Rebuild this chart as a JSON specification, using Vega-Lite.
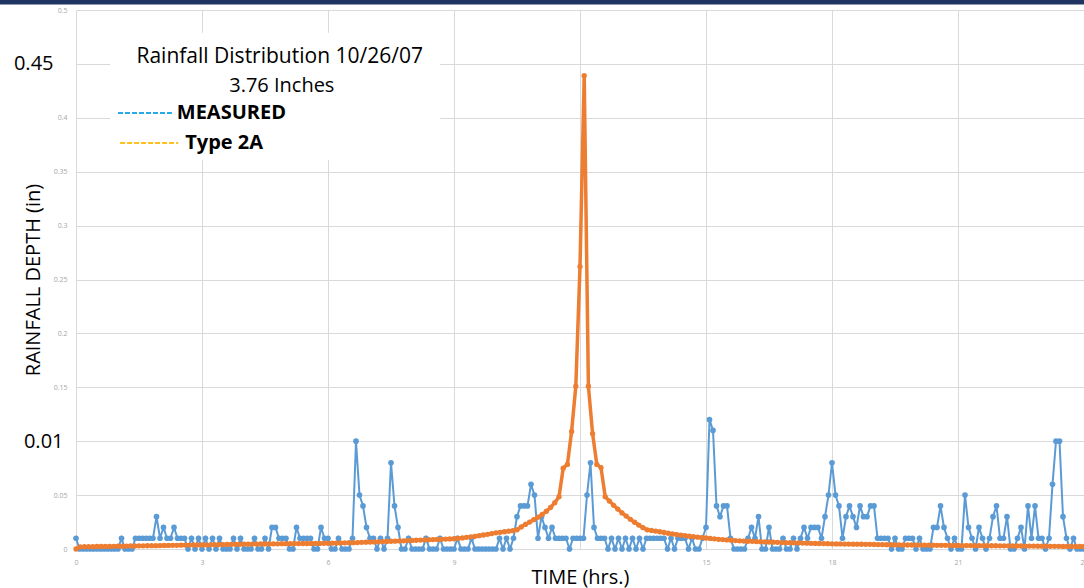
{
  "$schema": "https://vega.github.io/schema/vega-lite/v6.json",
  "width": 1008,
  "height": 539,
  "autosize": {"type": "none"},
  "padding": {"left": 76, "top": 10, "right": 0, "bottom": 39},
  "background": "white",
  "config": {
    "view": {"stroke": null},
    "font": "Open Sans",
    "axis": {"grid": true, "gridColor": "#d9d9d9", "gridWidth": 1, "gridOpacity": 1}
  },
  "data": {"values": [{}]},
  "datasets": {
    "measured": [
      {"m":0,"v":0.01},{"m":5,"v":0},{"m":10,"v":0},{"m":15,"v":0},{"m":20,"v":0},{"m":25,"v":0},{"m":30,"v":0},{"m":35,"v":0},{"m":40,"v":0},{"m":45,"v":0},
      {"m":50,"v":0},{"m":55,"v":0},{"m":60,"v":0},{"m":65,"v":0.01},{"m":70,"v":0},{"m":75,"v":0},{"m":80,"v":0},{"m":85,"v":0.01},{"m":90,"v":0.01},{"m":95,"v":0.01},
      {"m":100,"v":0.01},{"m":105,"v":0.01},{"m":110,"v":0.01},{"m":115,"v":0.03},{"m":120,"v":0.01},{"m":125,"v":0.02},{"m":130,"v":0.01},{"m":135,"v":0.01},{"m":140,"v":0.02},{"m":145,"v":0.01},
      {"m":150,"v":0.01},{"m":155,"v":0.01},{"m":160,"v":0},{"m":165,"v":0.01},{"m":170,"v":0},{"m":175,"v":0.01},{"m":180,"v":0},{"m":185,"v":0.01},{"m":190,"v":0},{"m":195,"v":0.01},
      {"m":200,"v":0},{"m":205,"v":0.01},{"m":210,"v":0},{"m":215,"v":0},{"m":220,"v":0},{"m":225,"v":0.01},{"m":230,"v":0},{"m":235,"v":0.01},{"m":240,"v":0},{"m":245,"v":0},
      {"m":250,"v":0},{"m":255,"v":0.01},{"m":260,"v":0},{"m":265,"v":0},{"m":270,"v":0.01},{"m":275,"v":0},{"m":280,"v":0.02},{"m":285,"v":0.02},{"m":290,"v":0.01},{"m":295,"v":0.01},
      {"m":300,"v":0.01},{"m":305,"v":0},{"m":310,"v":0},{"m":315,"v":0.02},{"m":320,"v":0.01},{"m":325,"v":0.01},{"m":330,"v":0.01},{"m":335,"v":0.01},{"m":340,"v":0},{"m":345,"v":0},
      {"m":350,"v":0.02},{"m":355,"v":0.01},{"m":360,"v":0.01},{"m":365,"v":0},{"m":370,"v":0},{"m":375,"v":0.01},{"m":380,"v":0},{"m":385,"v":0},{"m":390,"v":0},{"m":395,"v":0.01},
      {"m":400,"v":0.1},{"m":405,"v":0.05},{"m":410,"v":0.04},{"m":415,"v":0.02},{"m":420,"v":0.01},{"m":425,"v":0.01},{"m":430,"v":0},{"m":435,"v":0.01},{"m":440,"v":0},{"m":445,"v":0.01},
      {"m":450,"v":0.08},{"m":455,"v":0.04},{"m":460,"v":0.02},{"m":465,"v":0},{"m":470,"v":0},{"m":475,"v":0.01},{"m":480,"v":0},{"m":485,"v":0},{"m":490,"v":0},{"m":495,"v":0},
      {"m":500,"v":0.01},{"m":505,"v":0},{"m":510,"v":0},{"m":515,"v":0},{"m":520,"v":0.01},{"m":525,"v":0},{"m":530,"v":0},{"m":535,"v":0},{"m":540,"v":0},{"m":545,"v":0.01},
      {"m":550,"v":0},{"m":555,"v":0},{"m":560,"v":0},{"m":565,"v":0.01},{"m":570,"v":0},{"m":575,"v":0},{"m":580,"v":0},{"m":585,"v":0},{"m":590,"v":0},{"m":595,"v":0},
      {"m":600,"v":0},{"m":605,"v":0.01},{"m":610,"v":0},{"m":615,"v":0.01},{"m":620,"v":0},{"m":625,"v":0.01},{"m":630,"v":0.03},{"m":635,"v":0.04},{"m":640,"v":0.04},{"m":645,"v":0.04},
      {"m":650,"v":0.06},{"m":655,"v":0.05},{"m":660,"v":0.01},{"m":665,"v":0.03},{"m":670,"v":0.02},{"m":675,"v":0.01},{"m":680,"v":0.02},{"m":685,"v":0.01},{"m":690,"v":0.01},{"m":695,"v":0.01},
      {"m":700,"v":0.01},{"m":705,"v":0},{"m":710,"v":0.01},{"m":715,"v":0.01},{"m":720,"v":0.01},{"m":725,"v":0.01},{"m":730,"v":0.05},{"m":735,"v":0.08},{"m":740,"v":0.02},{"m":745,"v":0.01},
      {"m":750,"v":0.01},{"m":755,"v":0.01},{"m":760,"v":0},{"m":765,"v":0.01},{"m":770,"v":0},{"m":775,"v":0.01},{"m":780,"v":0},{"m":785,"v":0.01},{"m":790,"v":0},{"m":795,"v":0.01},
      {"m":800,"v":0},{"m":805,"v":0.01},{"m":810,"v":0},{"m":815,"v":0.01},{"m":820,"v":0.01},{"m":825,"v":0.01},{"m":830,"v":0.01},{"m":835,"v":0.01},{"m":840,"v":0.01},{"m":845,"v":0},
      {"m":850,"v":0.01},{"m":855,"v":0},{"m":860,"v":0.01},{"m":865,"v":0.01},{"m":870,"v":0.01},{"m":875,"v":0},{"m":880,"v":0.01},{"m":885,"v":0},{"m":890,"v":0},{"m":895,"v":0.01},
      {"m":900,"v":0.02},{"m":905,"v":0.12},{"m":910,"v":0.11},{"m":915,"v":0.04},{"m":920,"v":0.03},{"m":925,"v":0.04},{"m":930,"v":0.04},{"m":935,"v":0.01},{"m":940,"v":0},{"m":945,"v":0},
      {"m":950,"v":0},{"m":955,"v":0},{"m":960,"v":0.01},{"m":965,"v":0.02},{"m":970,"v":0.01},{"m":975,"v":0.03},{"m":980,"v":0},{"m":985,"v":0},{"m":990,"v":0.02},{"m":995,"v":0},
      {"m":1000,"v":0},{"m":1005,"v":0},{"m":1010,"v":0.01},{"m":1015,"v":0},{"m":1020,"v":0},{"m":1025,"v":0.01},{"m":1030,"v":0},{"m":1035,"v":0.01},{"m":1040,"v":0.02},{"m":1045,"v":0.01},
      {"m":1050,"v":0.02},{"m":1055,"v":0.02},{"m":1060,"v":0.02},{"m":1065,"v":0.01},{"m":1070,"v":0.03},{"m":1075,"v":0.05},{"m":1080,"v":0.08},{"m":1085,"v":0.05},{"m":1090,"v":0.04},{"m":1095,"v":0.01},
      {"m":1100,"v":0.03},{"m":1105,"v":0.04},{"m":1110,"v":0.03},{"m":1115,"v":0.02},{"m":1120,"v":0.04},{"m":1125,"v":0.03},{"m":1130,"v":0.03},{"m":1135,"v":0.04},{"m":1140,"v":0.04},{"m":1145,"v":0.01},
      {"m":1150,"v":0.01},{"m":1155,"v":0.01},{"m":1160,"v":0.01},{"m":1165,"v":0},{"m":1170,"v":0.01},{"m":1175,"v":0},{"m":1180,"v":0},{"m":1185,"v":0.01},{"m":1190,"v":0.01},{"m":1195,"v":0.01},
      {"m":1200,"v":0},{"m":1205,"v":0.01},{"m":1210,"v":0},{"m":1215,"v":0},{"m":1220,"v":0},{"m":1225,"v":0.02},{"m":1230,"v":0.02},{"m":1235,"v":0.04},{"m":1240,"v":0.02},{"m":1245,"v":0.01},
      {"m":1250,"v":0},{"m":1255,"v":0.01},{"m":1260,"v":0},{"m":1265,"v":0},{"m":1270,"v":0.05},{"m":1275,"v":0.02},{"m":1280,"v":0.01},{"m":1285,"v":0},{"m":1290,"v":0.02},{"m":1295,"v":0.01},
      {"m":1300,"v":0},{"m":1305,"v":0.01},{"m":1310,"v":0.03},{"m":1315,"v":0.04},{"m":1320,"v":0.01},{"m":1325,"v":0.01},{"m":1330,"v":0.03},{"m":1335,"v":0},{"m":1340,"v":0},{"m":1345,"v":0.01},
      {"m":1350,"v":0.02},{"m":1355,"v":0},{"m":1360,"v":0.04},{"m":1365,"v":0.01},{"m":1370,"v":0.04},{"m":1375,"v":0.01},{"m":1380,"v":0.01},{"m":1385,"v":0},{"m":1390,"v":0.01},{"m":1395,"v":0.06},
      {"m":1400,"v":0.1},{"m":1405,"v":0.1},{"m":1410,"v":0.03},{"m":1415,"v":0.01},{"m":1420,"v":0},{"m":1425,"v":0.01},{"m":1430,"v":0},{"m":1435,"v":0},{"m":1440,"v":0}
    ],
    "type2a": [
      {"m":0,"v":0},{"m":6,"v":0.002},{"m":12,"v":0.0021},{"m":18,"v":0.0021},{"m":24,"v":0.0022},{"m":30,"v":0.0023},{"m":36,"v":0.0023},{"m":42,"v":0.0024},{"m":48,"v":0.0024},{"m":54,"v":0.0025},
      {"m":60,"v":0.0026},{"m":66,"v":0.0026},{"m":72,"v":0.0027},{"m":78,"v":0.0028},{"m":84,"v":0.0028},{"m":90,"v":0.0029},{"m":96,"v":0.0029},{"m":102,"v":0.003},{"m":108,"v":0.0031},{"m":114,"v":0.0031},
      {"m":120,"v":0.0032},{"m":126,"v":0.0033},{"m":132,"v":0.0033},{"m":138,"v":0.0034},{"m":144,"v":0.0034},{"m":150,"v":0.0035},{"m":156,"v":0.0036},{"m":162,"v":0.0036},{"m":168,"v":0.0037},{"m":174,"v":0.0038},
      {"m":180,"v":0.0038},{"m":186,"v":0.0039},{"m":192,"v":0.0039},{"m":198,"v":0.004},{"m":204,"v":0.0041},{"m":210,"v":0.0041},{"m":216,"v":0.0042},{"m":222,"v":0.0043},{"m":228,"v":0.0043},{"m":234,"v":0.0044},
      {"m":240,"v":0.0045},{"m":246,"v":0.0045},{"m":252,"v":0.0046},{"m":258,"v":0.0046},{"m":264,"v":0.0047},{"m":270,"v":0.0047},{"m":276,"v":0.0047},{"m":282,"v":0.0048},{"m":288,"v":0.0048},{"m":294,"v":0.0049},
      {"m":300,"v":0.0049},{"m":306,"v":0.0049},{"m":312,"v":0.005},{"m":318,"v":0.005},{"m":324,"v":0.0051},{"m":330,"v":0.0051},{"m":336,"v":0.0051},{"m":342,"v":0.0052},{"m":348,"v":0.0052},{"m":354,"v":0.0053},
      {"m":360,"v":0.0053},{"m":366,"v":0.0054},{"m":372,"v":0.0055},{"m":378,"v":0.0056},{"m":384,"v":0.0057},{"m":390,"v":0.0058},{"m":396,"v":0.0059},{"m":402,"v":0.006},{"m":408,"v":0.0062},{"m":414,"v":0.0063},
      {"m":420,"v":0.0064},{"m":426,"v":0.0066},{"m":432,"v":0.0067},{"m":438,"v":0.0069},{"m":444,"v":0.007},{"m":450,"v":0.0072},{"m":456,"v":0.0073},{"m":462,"v":0.0075},{"m":468,"v":0.0076},{"m":474,"v":0.0078},
      {"m":480,"v":0.008},{"m":486,"v":0.0081},{"m":492,"v":0.0083},{"m":498,"v":0.0084},{"m":504,"v":0.0086},{"m":510,"v":0.0087},{"m":516,"v":0.0089},{"m":522,"v":0.009},{"m":528,"v":0.0092},{"m":534,"v":0.0093},
      {"m":540,"v":0.0095},{"m":546,"v":0.0099},{"m":552,"v":0.0103},{"m":558,"v":0.0108},{"m":564,"v":0.0113},{"m":570,"v":0.0118},{"m":576,"v":0.0124},{"m":582,"v":0.013},{"m":588,"v":0.0136},{"m":594,"v":0.0143},
      {"m":600,"v":0.015},{"m":606,"v":0.0155},{"m":612,"v":0.016},{"m":618,"v":0.0165},{"m":624,"v":0.017},{"m":630,"v":0.0178},{"m":636,"v":0.0205},{"m":642,"v":0.0228},{"m":648,"v":0.025},{"m":654,"v":0.0272},
      {"m":660,"v":0.0295},{"m":666,"v":0.032},{"m":672,"v":0.035},{"m":678,"v":0.0385},{"m":684,"v":0.043},{"m":690,"v":0.0485},{"m":696,"v":0.075},{"m":702,"v":0.0785},{"m":708,"v":0.109},{"m":714,"v":0.151},
      {"m":720,"v":0.262},{"m":726,"v":0.439},{"m":732,"v":0.151},{"m":738,"v":0.107},{"m":744,"v":0.0785},{"m":750,"v":0.0755},{"m":756,"v":0.0485},{"m":762,"v":0.0445},{"m":768,"v":0.0405},{"m":774,"v":0.037},
      {"m":780,"v":0.0335},{"m":786,"v":0.0305},{"m":792,"v":0.0275},{"m":798,"v":0.0248},{"m":804,"v":0.0222},{"m":810,"v":0.0198},{"m":816,"v":0.0178},{"m":822,"v":0.0172},{"m":828,"v":0.0166},{"m":834,"v":0.016},
      {"m":840,"v":0.0153},{"m":846,"v":0.0146},{"m":852,"v":0.0139},{"m":858,"v":0.0134},{"m":864,"v":0.0129},{"m":870,"v":0.0124},{"m":876,"v":0.0119},{"m":882,"v":0.0114},{"m":888,"v":0.011},{"m":894,"v":0.0106},
      {"m":900,"v":0.0102},{"m":906,"v":0.0098},{"m":912,"v":0.0094},{"m":918,"v":0.009},{"m":924,"v":0.0087},{"m":930,"v":0.0084},{"m":936,"v":0.0081},{"m":942,"v":0.0078},{"m":948,"v":0.0076},{"m":954,"v":0.0074},
      {"m":960,"v":0.0072},{"m":966,"v":0.0071},{"m":972,"v":0.0069},{"m":978,"v":0.0068},{"m":984,"v":0.0066},{"m":990,"v":0.0065},{"m":996,"v":0.0063},{"m":1002,"v":0.0062},{"m":1008,"v":0.006},{"m":1014,"v":0.0059},
      {"m":1020,"v":0.0058},{"m":1026,"v":0.0057},{"m":1032,"v":0.0056},{"m":1038,"v":0.0055},{"m":1044,"v":0.0054},{"m":1050,"v":0.0053},{"m":1056,"v":0.0052},{"m":1062,"v":0.0051},{"m":1068,"v":0.005},{"m":1074,"v":0.0049},
      {"m":1080,"v":0.0048},{"m":1086,"v":0.0047},{"m":1092,"v":0.0047},{"m":1098,"v":0.0046},{"m":1104,"v":0.0046},{"m":1110,"v":0.0045},{"m":1116,"v":0.0045},{"m":1122,"v":0.0044},{"m":1128,"v":0.0043},{"m":1134,"v":0.0043},
      {"m":1140,"v":0.0042},{"m":1146,"v":0.0041},{"m":1152,"v":0.0041},{"m":1158,"v":0.004},{"m":1164,"v":0.004},{"m":1170,"v":0.0039},{"m":1176,"v":0.0039},{"m":1182,"v":0.0038},{"m":1188,"v":0.0037},{"m":1194,"v":0.0037},
      {"m":1200,"v":0.0036},{"m":1206,"v":0.0036},{"m":1212,"v":0.0035},{"m":1218,"v":0.0035},{"m":1224,"v":0.0035},{"m":1230,"v":0.0034},{"m":1236,"v":0.0034},{"m":1242,"v":0.0034},{"m":1248,"v":0.0033},{"m":1254,"v":0.0033},
      {"m":1260,"v":0.0033},{"m":1266,"v":0.0032},{"m":1272,"v":0.0032},{"m":1278,"v":0.0032},{"m":1284,"v":0.0031},{"m":1290,"v":0.0031},{"m":1296,"v":0.0031},{"m":1302,"v":0.003},{"m":1308,"v":0.003},{"m":1314,"v":0.003},
      {"m":1320,"v":0.0029},{"m":1326,"v":0.0029},{"m":1332,"v":0.0029},{"m":1338,"v":0.0028},{"m":1344,"v":0.0028},{"m":1350,"v":0.0028},{"m":1356,"v":0.0027},{"m":1362,"v":0.0027},{"m":1368,"v":0.0027},{"m":1374,"v":0.0026},
      {"m":1380,"v":0.0026},{"m":1386,"v":0.0026},{"m":1392,"v":0.0025},{"m":1398,"v":0.0025},{"m":1404,"v":0.0025},{"m":1410,"v":0.0024},{"m":1416,"v":0.0024},{"m":1422,"v":0.0024},{"m":1428,"v":0.0023},{"m":1434,"v":0.0023},
      {"m":1440,"v":0.0023}
    ]
  },
  "layer": [
    {
      "mark": {"type": "rect", "color": "#1f3461"},
      "encoding": {
        "x": {"datum": -110, "type": "quantitative"},
        "x2": {"datum": 1445},
        "y": {"datum": 0.5051, "type": "quantitative"},
        "y2": {"datum": 0.53}
      }
    },
    {
      "mark": {"type": "rect", "color": "white"},
      "encoding": {
        "x": {"datum": 49, "type": "quantitative"},
        "x2": {"datum": 520},
        "y": {"datum": 0.361, "type": "quantitative"},
        "y2": {"datum": 0.479}
      }
    },
    {
      "data": {"name": "measured"},
      "mark": {"type": "line", "color": "#5B9BD5", "strokeWidth": 2, "point": {"filled": true, "size": 32, "color": "#5B9BD5"}},
      "encoding": {
        "x": {
          "field": "m", "type": "quantitative",
          "scale": {"domain": [0, 1440], "nice": false, "zero": false},
          "axis": {
            "title": "TIME (hrs.)",
            "titleFontSize": 20, "titleFontWeight": "normal", "titleColor": "#000000", "titlePadding": 2,
            "values": [0, 180, 360, 540, 720, 900, 1080, 1260, 1440],
            "labelExpr": "datum.value == 720 ? '' : format(datum.value / 60, '~g')",
            "labelFontSize": 7, "labelColor": "#a6a6a6", "labelPadding": 9, "labelFlush": false,
            "grid": true, "gridColor": "#d9d9d9", "gridWidth": 1,
            "domain": false, "ticks": false
          }
        },
        "y": {
          "field": "v", "type": "quantitative",
          "scale": {"domain": [0, 0.5], "nice": false},
          "axis": {
            "title": "RAINFALL DEPTH (in)",
            "titleFontSize": 20, "titleFontWeight": "normal", "titleColor": "#000000", "titlePadding": -30,
            "values": [0, 0.05, 0.1, 0.15, 0.2, 0.25, 0.3, 0.35, 0.4, 0.45, 0.5],
            "labelExpr": "datum.value == 0.1 ? '0.01' : format(datum.value, '~g')",
            "labelFontSize": {"condition": {"test": "datum.value == 0.45 || datum.value == 0.1", "value": 20}, "value": 7},
            "labelColor": {"condition": {"test": "datum.value == 0.45 || datum.value == 0.1", "value": "#000000"}, "value": "#a6a6a6"},
            "labelPadding": {"condition": [{"test": "datum.value == 0.45", "value": 23}, {"test": "datum.value == 0.1", "value": 13}], "value": 9},
            "labelFlush": false,
            "grid": true, "gridColor": "#d9d9d9", "gridWidth": 1,
            "domain": false, "ticks": false
          }
        }
      }
    },
    {
      "data": {"name": "type2a"},
      "mark": {"type": "line", "color": "#ED7D31", "strokeWidth": 3.5, "point": {"filled": true, "size": 28, "color": "#ED7D31"}},
      "encoding": {
        "x": {"field": "m", "type": "quantitative"},
        "y": {"field": "v", "type": "quantitative"}
      }
    },
    {
      "mark": {"type": "text", "text": "Rainfall Distribution 10/26/07", "fontSize": 21, "align": "center", "baseline": "middle", "color": "#000000"},
      "encoding": {"x": {"datum": 291, "type": "quantitative"}, "y": {"datum": 0.456, "type": "quantitative"}}
    },
    {
      "mark": {"type": "text", "text": "3.76 Inches", "fontSize": 20, "align": "center", "baseline": "middle", "color": "#000000"},
      "encoding": {"x": {"datum": 294, "type": "quantitative"}, "y": {"datum": 0.4295, "type": "quantitative"}}
    },
    {
      "mark": {"type": "rule", "color": "#29a9e6", "strokeWidth": 2, "strokeDash": [5, 2]},
      "encoding": {"x": {"datum": 60, "type": "quantitative"}, "x2": {"datum": 137}, "y": {"datum": 0.4045, "type": "quantitative"}}
    },
    {
      "mark": {"type": "text", "text": "MEASURED", "fontSize": 20, "fontWeight": "bold", "align": "left", "baseline": "middle", "color": "#000000"},
      "encoding": {"x": {"datum": 144, "type": "quantitative"}, "y": {"datum": 0.4045, "type": "quantitative"}}
    },
    {
      "mark": {"type": "rule", "color": "#ffbf1f", "strokeWidth": 2, "strokeDash": [5, 2]},
      "encoding": {"x": {"datum": 63, "type": "quantitative"}, "x2": {"datum": 146}, "y": {"datum": 0.3766, "type": "quantitative"}}
    },
    {
      "mark": {"type": "text", "text": "Type 2A", "fontSize": 20, "fontWeight": "bold", "align": "left", "baseline": "middle", "color": "#000000"},
      "encoding": {"x": {"datum": 156, "type": "quantitative"}, "y": {"datum": 0.3766, "type": "quantitative"}}
    }
  ]
}
